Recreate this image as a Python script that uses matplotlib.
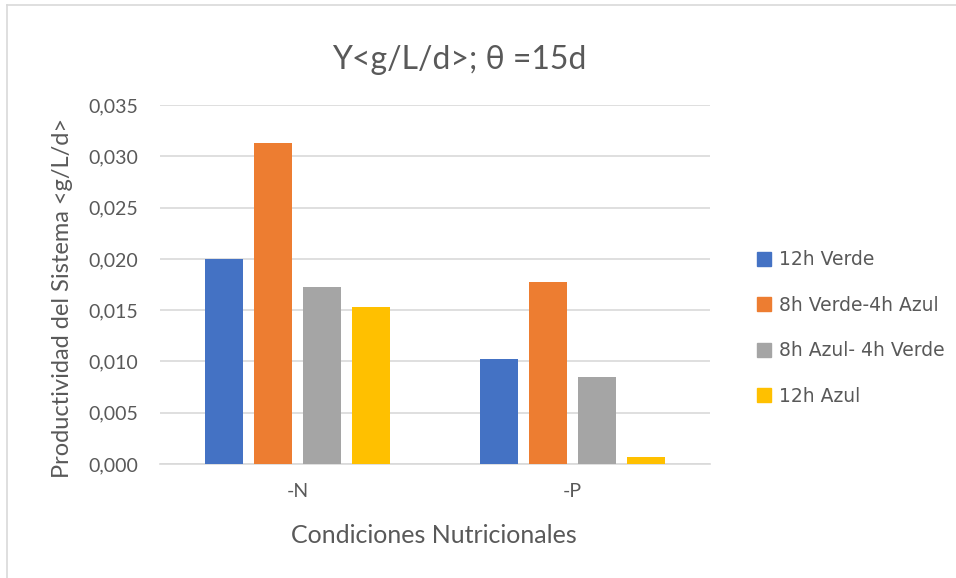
import matplotlib
matplotlib.use("Agg")
import matplotlib.pyplot as plt
import numpy as np
from matplotlib.lines import Line2D
from matplotlib.ticker import FuncFormatter

categories = ["-N", "-P"]
series_names = ["12h Verde", "8h Verde-4h Azul", "8h Azul- 4h Verde", "12h Azul"]
v_12h_verde = [0.0200, 0.0102]
v_8hv_4ha = [0.0313, 0.0177]
v_8ha_4hv = [0.0173, 0.0085]
v_12h_azul = [0.0153, 0.0007]
yticks = [0.0, 0.005, 0.010, 0.015, 0.020, 0.025, 0.030, 0.035]

colors = ["#4472C4", "#ED7D31", "#A5A5A5", "#FFC000"]
text_col = "#595959"
plt.rcParams['font.family'] = ['Lato', 'DejaVu Sans']

fig = plt.figure(figsize=(9.56, 5.78), dpi=100)
ax = fig.add_axes([0.1674, 0.1972, 0.5753, 0.6211])

x = np.arange(len(categories))
width = 0.138
step = 0.178
for i, (name, vals) in enumerate(zip(series_names, [v_12h_verde, v_8hv_4ha, v_8ha_4hv, v_12h_azul])):
    ax.bar(x + (i - 1.5) * step, vals, width, color=colors[i], label=name, zorder=3)

ax.set_xlim(-0.5, 1.5)
ax.set_ylim(0, 0.035)
ax.set_yticks(yticks)
ax.yaxis.set_major_formatter(FuncFormatter(lambda v, p: f"{v:.3f}".replace(".", ",")))
ax.set_xticks(x)
ax.set_xticklabels(categories)
ax.grid(axis='y', color='#D9D9D9', linewidth=1.2, zorder=0)
for s in ['top', 'right', 'left']:
    ax.spines[s].set_visible(False)
ax.spines['bottom'].set_color('#D9D9D9')
ax.spines['bottom'].set_linewidth(1.2)
ax.tick_params(length=0, labelsize=14, colors=text_col)
ax.tick_params(axis='y', pad=16)
ax.tick_params(axis='x', pad=14)

fig.text(459 / 956, 1 - 60 / 578, "Y<g/L/d>; θ =15d", fontsize=23, color=text_col,
         ha='center', va='center')
ax.set_xlabel("Condiciones Nutricionales", fontsize=18, color=text_col)
ax.xaxis.set_label_coords(0.498, -71 / 359, transform=ax.transAxes)
ax.set_ylabel("Productividad del Sistema <g/L/d>", fontsize=17, color=text_col)
ax.yaxis.set_label_coords(-98 / 550, (464 - 298) / 359, transform=ax.transAxes)
ax.xaxis.label.set_va('center')
ax.yaxis.label.set_va('center')

handles = [Line2D([], [], marker='s', linestyle='', markersize=10, color=c) for c in colors]
leg = fig.legend(handles, series_names, loc='center left', bbox_to_anchor=(0.772, 0.4325),
                 frameon=False, labelspacing=1.42, handletextpad=0.3, handlelength=1.0,
                 prop={'family': 'DejaVu Sans', 'size': 13.5})
for t in leg.get_texts():
    t.set_color(text_col)

# frame edges of the original chart box
fig.add_artist(Line2D([0.007, 0.007], [0.0, 0.992], color='#D9D9D9', lw=1.2))
fig.add_artist(Line2D([0.007, 1.0], [0.992, 0.992], color='#D9D9D9', lw=1.2))

fig.savefig("out.png", dpi=100)
